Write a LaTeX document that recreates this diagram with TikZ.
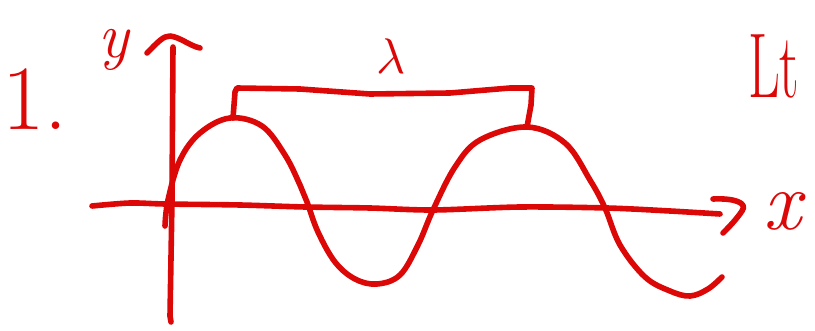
\documentclass[tikz,border=0pt]{standalone}
\usepackage{graphicx}
\begin{document}
\begin{tikzpicture}[x=1pt,y=-1pt,
  pen/.style={draw=ink,line width=5.6pt,line cap=round,line join=round},
  hand/.style={text=ink,inner sep=0pt,font=\itshape}]
\definecolor{ink}{RGB}{220,8,8}
\useasboundingbox (0,0) rectangle (815,331);
% label 1.
\node[hand,font=\fontsize{92}{92}\selectfont,anchor=south west] (num) at (2,130) {1.};
% y label
\node[hand,font=\fontsize{64}{64}\selectfont\itshape] (ylab) at (114,50) {y};
% y axis
\coordinate (ytop) at (173,47);
\coordinate (ybot) at (171,322);
\draw[pen] (ytop) -- (172,200) -- (170,316) -- (ybot);
\draw[pen] (147,53) .. controls (158,42) and (163,36) .. (170,36) .. controls (180,37) and (190,46) .. (200,48);
% x axis
\coordinate (xl) at (92,206);
\coordinate (xr) at (720,214);
\draw[pen] plot[smooth] coordinates {(xl) (130,203) (165,204) (240,205) (305,207) (370,208) (433,210) (520,207) (607,208) (670,211) (xr)};
\draw[pen] (713,199) .. controls (735,198) and (748,203) .. (742,211) .. controls (736,220) and (728,228) .. (723,233);
% x label
\node[hand,font=\fontsize{84}{84}\selectfont\itshape] (xlab) at (782,211) {x};
% sine wave
\draw[pen] plot[smooth,tension=0.6] coordinates {(165,226) (168,200) (180,160) (200,133) (230,118) (262,126) (285,155) (300,185) (307,202) (318,232) (335,262) (355,279) (377,284) (400,275) (418,245) (433,210) (455,167) (480,140) (527,127) (565,143) (590,180) (605,208) (620,245) (645,277) (670,291) (690,296) (708,289) (722,277)};
% bracket
\coordinate (pk1) at (233,118);
\coordinate (pk2) at (527,127);
\draw[pen] (pk1) -- (235,92) -- (237,88) -- (300,89) -- (370,94) -- (450,93) -- (510,88) -- (532,88) -- (531,105) -- (pk2);
% lambda
\node[text=ink,inner sep=0pt] (lam) at (391,56) {\scalebox{5}{$\lambda$}};
% partial label top right
\node[hand,font=\fontsize{92}{92}\selectfont,anchor=south west] (lt) at (748,98) {\scalebox{0.6}[1]{Lt}};
\end{tikzpicture}
\end{document}
